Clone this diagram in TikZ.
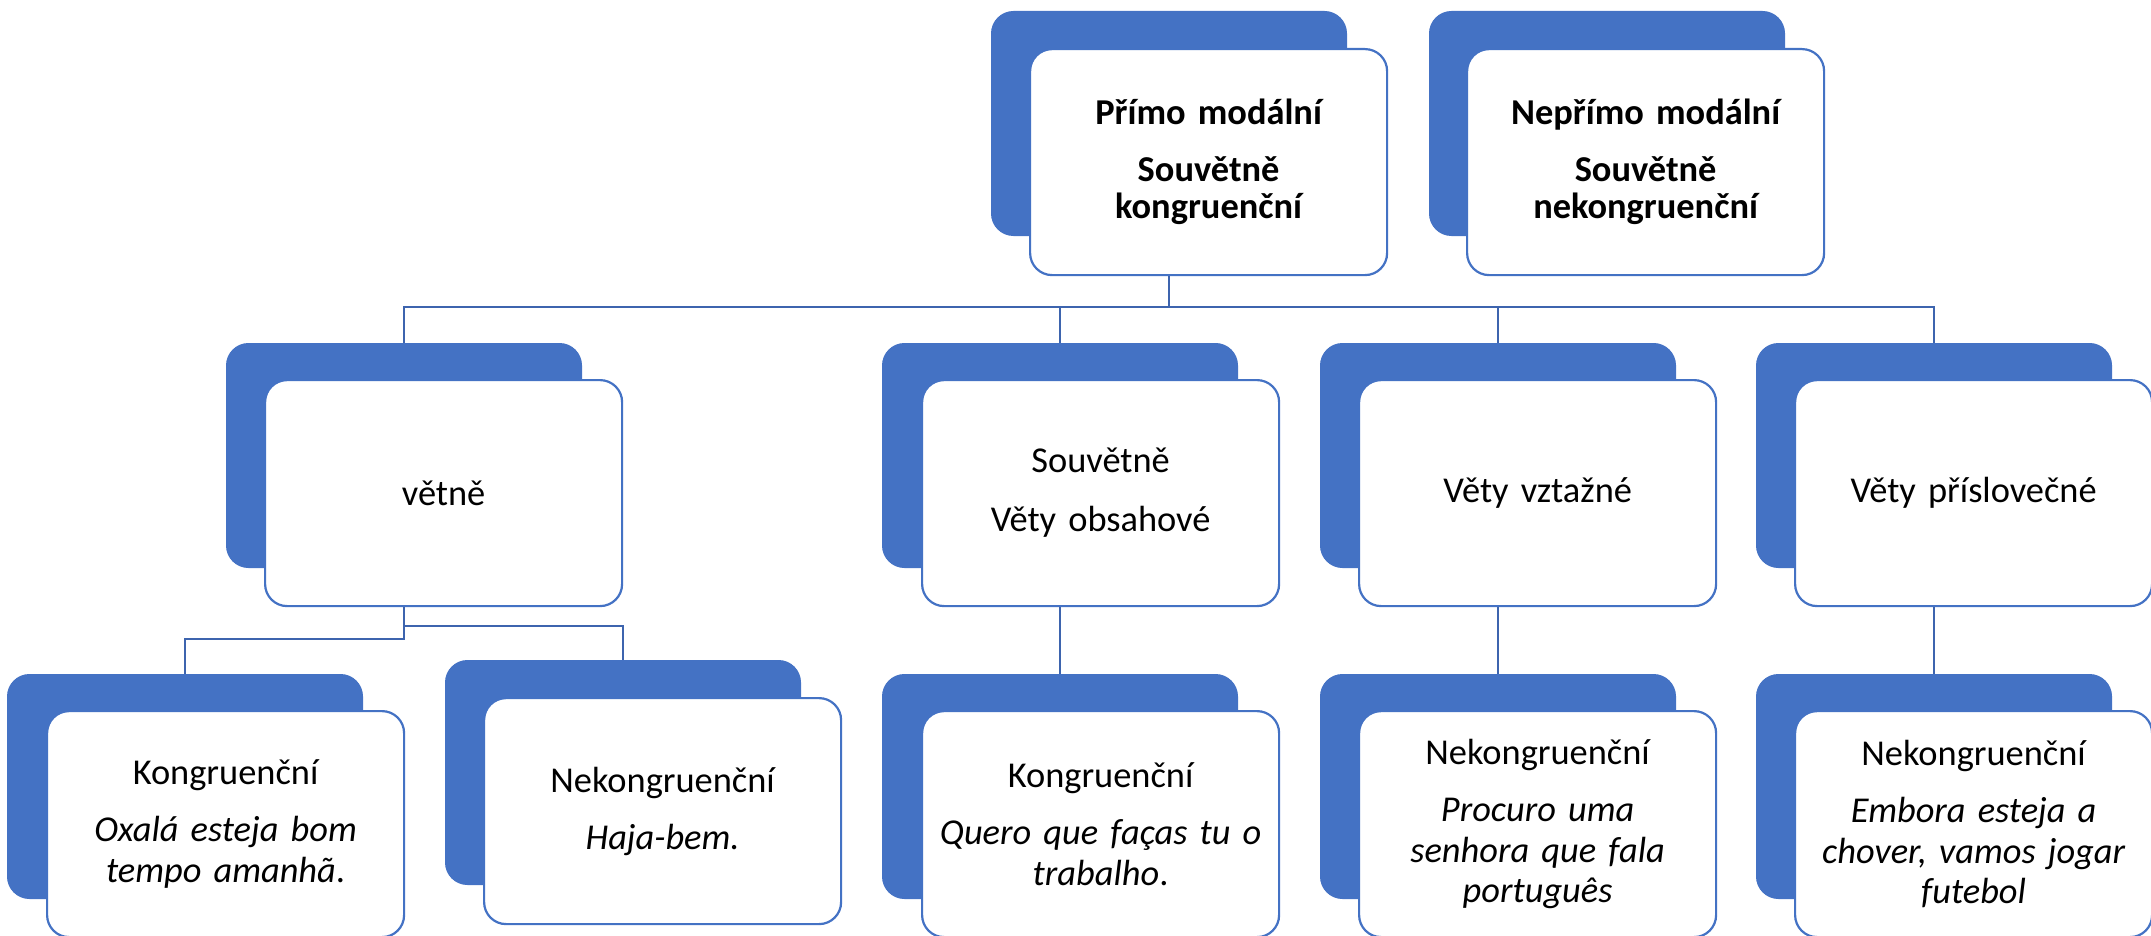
\documentclass[tikz,border=0pt]{standalone}
\usepackage{fontspec}
\setmainfont{Carlito}
\definecolor{accent}{HTML}{4472C4}
\definecolor{connc}{HTML}{3D64AE}
\begin{document}
\begin{tikzpicture}[x=1pt,y=-1pt,
  back/.style={rectangle, rounded corners=22pt, fill=accent, draw=accent, line width=1pt,
    minimum width=355pt, minimum height=224pt, anchor=north west, inner sep=0pt},
  front/.style={rectangle, rounded corners=22pt, fill=white, draw=accent, line width=2.2pt,
    minimum width=357pt, minimum height=226pt, anchor=north west, inner sep=0pt,
    align=center, text width=350pt, font=\fontsize{36.4}{40.5}\selectfont},
  topfront/.style={front, font=\fontsize{36.4}{37}\selectfont\bfseries},
  conn/.style={draw=connc, line width=2.2pt}]
\useasboundingbox (0,0) rectangle (2151,936);

% top level
\node[back] (bP) at (991,11) {};
\node[topfront] (wP) at (1029,48) {Přímo modální\\[20pt]Souvětně\\kongruenční};
\node[back] (bN) at (1429,11) {};
\node[topfront] (wN) at (1466,48) {Nepřímo modální\\[20pt]Souvětně\\nekongruenční};

% second level
\node[back] (bV) at (226,343) {};
\node[front] (wV) at (264,379) {větně};
\node[back] (bS) at (882,343) {};
\node[front] (wS) at (921,379) {Souvětně\\[18.5pt]Věty obsahové};
\node[back] (bZ) at (1320,343) {};
\node[front] (wZ) at (1358,379) {Věty vztažné};
\node[back] (bR) at (1756,343) {};
\node[front] (wR) at (1794,379) {Věty příslovečné};

% third level
\node[back] (bK1) at (7,674) {};
\node[front] (wK1) at (46,710) {Kongruenční\\[16.5pt]{\itshape Oxalá esteja bom}\\{\itshape tempo amanhã}.};
\node[back] (bN1) at (445,660) {};
\node[front] (wN1) at (483,697) {Nekongruenční\\[16.5pt]{\itshape Haja-bem.}};
\node[back] (bK2) at (882,674) {};
\node[front] (wK2) at (921,710) {Kongruenční\\[16.5pt]{\itshape Quero que faças tu o}\\{\itshape trabalho}.};
\node[back] (bN2) at (1320,674) {};
\node[front] (wN2) at (1358,710) {Nekongruenční\\[16.5pt]{\itshape Procuro uma}\\{\itshape senhora que fala}\\{\itshape português}};
\node[back] (bN3) at (1756,674) {};
\node[front] (wN3) at (1794,710) {Nekongruenční\\[16.5pt]{\itshape Embora esteja a}\\{\itshape chover, vamos jogar}\\{\itshape futebol}};

% connectors
\coordinate (bus) at (0,307);
\coordinate (jA) at (0,626);
\coordinate (jB) at (0,639);
\draw[conn] (bP.center |- wP.south) -- (bP.center |- bus);
\draw[conn] (bV.north) -- (bV.north |- bus) -- (bR.north |- bus) -- (bR.north);
\draw[conn] (bS.north) -- (bS.north |- bus);
\draw[conn] (bZ.north) -- (bZ.north |- bus);

\draw[conn] (bV.center |- wV.south) -- (bV.center |- jB) -- (bK1.north |- jB) -- (bK1.north);
\draw[conn] (bV.center |- jA) -- (bN1.north |- jA) -- (bN1.north);
\draw[conn] (bS.center |- wS.south) -- (bK2.north);
\draw[conn] (bZ.center |- wZ.south) -- (bN2.north);
\draw[conn] (bR.center |- wR.south) -- (bN3.north);
\end{tikzpicture}
\end{document}
